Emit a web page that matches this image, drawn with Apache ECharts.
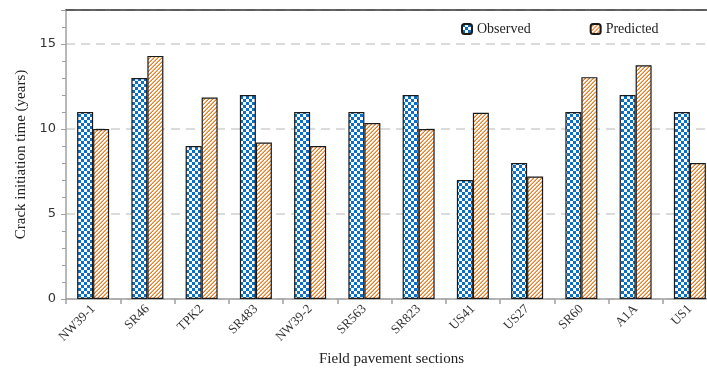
<!DOCTYPE html>
<html><head><meta charset="utf-8">
<script src="https://cdn.jsdelivr.net/npm/echarts@6/dist/echarts.min.js"></script>
<style>html,body{margin:0;padding:0;background:#fff}#c{width:707px;height:370px}</style>
</head><body><div id="c"></div>
<script>
const categories = ['NW39-1','SR46','TPK2','SR483','NW39-2','SR563','SR823','US41','US27','SR60','A1A','US1'];
const observed = [11,13,9,12,11,11,12,7,8,11,12,11];
const predicted = [10,14.3,11.85,9.2,9,10.35,10,10.95,7.2,13.05,13.75,8];
const yTicks = [0,5,10,15];

function checker(){
  const c=document.createElement('canvas');c.width=6;c.height=6;
  const g=c.getContext('2d');g.fillStyle='#ffffff';g.fillRect(0,0,6,6);
  g.fillStyle='#0a6fc6';g.fillRect(0,0,3,3);g.fillRect(3,3,3,3);
  return c;
}
function hatch(){
  const c=document.createElement('canvas');c.width=4;c.height=4;
  const g=c.getContext('2d');g.fillStyle='#ffffff';g.fillRect(0,0,4,4);
  for(let x=0;x<4;x++)for(let y=0;y<4;y++){
    const k=(x+y)%4;
    if(k===3){g.fillStyle='#ef7a22';g.fillRect(x,y,1,1);}
    else if(k===2){g.fillStyle='#f7b27a';g.fillRect(x,y,1,1);}
  }
  return c;
}
const serif = '"Liberation Serif","Times New Roman",serif';
const chart = echarts.init(document.getElementById('c'));
chart.setOption({
  animation:false,
  grid:{left:66,top:10,bottom:71,width:651,containLabel:false,outerBoundsMode:'none'},
  legend:{top:17,left:456,itemGap:59,itemWidth:10,itemHeight:10,
    textStyle:{fontFamily:serif,fontSize:14,color:'#222'},
    data:['Observed','Predicted']},
  xAxis:[{type:'category',data:categories,
    axisLine:{lineStyle:{color:'#a0a0a0',width:1.5}},
    axisTick:{show:true,length:5,lineStyle:{color:'#a0a0a0',width:1.5}},
    axisLabel:{rotate:45,fontFamily:serif,fontSize:13,color:'#333',margin:8},
    name:'Field pavement sections',nameLocation:'middle',nameGap:53,
    nameTextStyle:{fontFamily:serif,fontSize:15,color:'#222'}},
   {type:'category',position:'top',data:categories,
    axisLine:{lineStyle:{color:'#333',width:1.5}},axisTick:{show:false},axisLabel:{show:false}}],
  yAxis:{type:'value',min:0,max:17,interval:5,
    axisLine:{show:true,lineStyle:{color:'#a0a0a0',width:1.5}},
    axisTick:{show:true,length:5,lineStyle:{color:'#a0a0a0'}},
    minorTick:{show:true,splitNumber:5,length:4,lineStyle:{color:'#a0a0a0'}},
    axisLabel:{fontFamily:'"DejaVu Sans",Verdana,sans-serif',fontSize:13,color:'#333',margin:10,
      formatter:v=>yTicks.includes(v)?String(v):''},
    splitLine:{show:true,lineStyle:{color:'#cfcfcf',type:[9,6],width:1.5}},
    name:'Crack initiation time (years)',nameLocation:'middle',nameGap:34,
    nameTextStyle:{fontFamily:serif,fontSize:15,color:'#222'}},
  series:[
    {name:'Observed',type:'bar',data:observed,barWidth:16,barGap:'0%',
     itemStyle:{color:{image:checker(),repeat:'repeat'},borderColor:'#1a1a1a',borderWidth:1.2}},
    {name:'Predicted',type:'bar',data:predicted,barWidth:16,barGap:'0%',
     itemStyle:{color:{image:hatch(),repeat:'repeat'},borderColor:'#1a1a1a',borderWidth:1.2}}
  ]
});
</script></body></html>
